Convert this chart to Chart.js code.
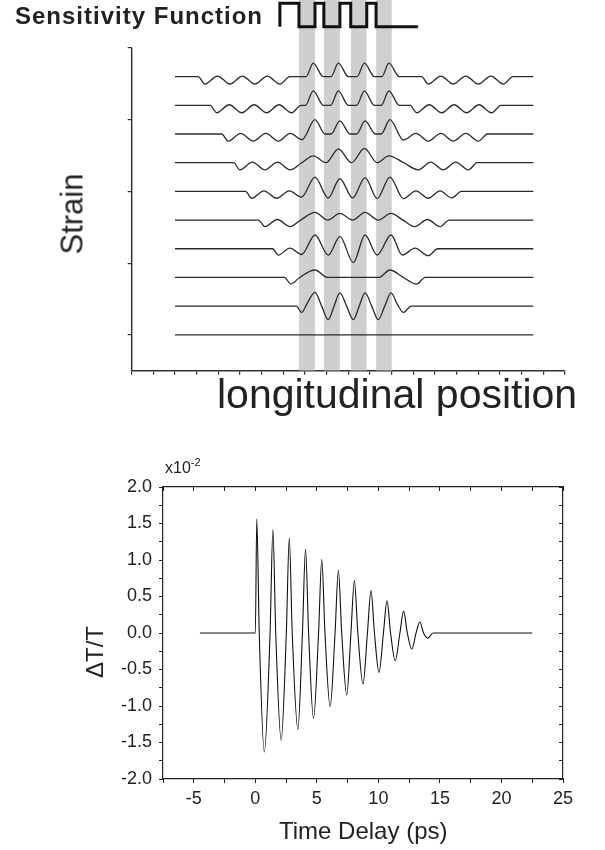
<!DOCTYPE html>
<html><head><meta charset="utf-8">
<script src="https://cdn.jsdelivr.net/npm/chart.js@4.4.1/dist/chart.umd.min.js"></script>
<style>
html,body{margin:0;padding:0;background:#fff;width:605px;height:850px;overflow:hidden;font-family:"Liberation Sans",Arial,sans-serif;color:#222;}
canvas{position:absolute;left:0;}
.lbl{position:absolute;white-space:nowrap;line-height:1;}
.rot{transform:translate(-50%,-50%) rotate(-90deg);}
sup{font-size:11px;position:relative;top:-1px;}
</style></head><body>
<canvas id="top" width="605" height="380" style="top:0"></canvas>
<canvas id="bot" width="605" height="420" style="top:430px"></canvas>
<div class="lbl" style="left:15px;top:4px;font-weight:bold;font-size:24px;letter-spacing:1px;">Sensitivity Function</div>
<div class="lbl" style="left:217px;top:374px;font-size:41px;">longitudinal position</div>
<div class="lbl rot" style="left:72px;top:214px;font-size:31px;">Strain</div>
<div class="lbl" style="left:165px;top:458px;font-size:16px;">x10<sup>-2</sup></div>
<div class="lbl rot" style="left:95px;top:652px;font-size:24px;">&Delta;T/T</div>
<div class="lbl" style="left:279px;top:819px;font-size:24px;">Time Delay (ps)</div>
<script>
// ---------- top panel: schematic strain traces ----------
const strainLevels = [0, 1, 2, 3, 4, 5, 6, 7, 8, 9];
const strainT0 = [[2.0,0],[18.54,0]];
const strainT1 = [[2.0,0],[7.6,0],[7.84,-0.22],[8.1,0.1],[8.46,0.48],[8.77,0],[9.07,-0.47],[9.34,0],[9.61,0.46],[9.92,0],[10.23,-0.47],[10.5,0],[10.77,0.46],[11.08,0],[11.38,-0.47],[11.68,0],[11.97,0.46],[12.27,0.05],[12.54,-0.22],[12.9,0],[18.54,0]];
const strainT2 = [[2.0,0],[7.05,0],[7.35,-0.23],[7.75,0],[8.46,0.26],[9.05,0],[11.4,0],[11.92,0.26],[12.5,0.02],[13.15,-0.23],[13.55,0],[18.54,0]];
const strainT3 = [[2.0,0],[6.5,0],[6.77,-0.22],[7.3,0.02],[7.84,-0.2],[8.46,0.48],[9.07,-0.22],[9.61,0.42],[10.23,-0.48],[10.77,0.48],[11.33,-0.22],[11.97,0.48],[12.49,-0.22],[13.08,0.02],[13.69,-0.24],[14.12,0],[18.54,0]];
const strainT4 = [[2.0,0],[5.85,0],[6.15,-0.23],[6.72,0.02],[7.31,-0.23],[7.8,0],[8.46,0.27],[9.05,0],[9.61,0.23],[10.2,0],[10.77,0.27],[11.38,0],[11.97,0.23],[12.52,0],[13.07,-0.23],[13.65,0.02],[14.23,-0.23],[14.65,0],[18.54,0]];
const strainT5 = [[2.0,0],[5.25,0],[5.54,-0.24],[6.1,0.02],[6.69,-0.24],[7.27,0.02],[7.84,-0.2],[8.46,0.5],[9.07,-0.23],[9.61,0.44],[10.2,-0.23],[10.77,0.48],[11.33,-0.25],[11.92,0.5],[12.54,-0.25],[13.12,0.02],[13.69,-0.24],[14.23,0.02],[14.77,-0.23],[15.22,0],[18.54,0]];
const strainT6 = [[2.0,0],[4.7,0],[5.0,-0.25],[5.57,0.02],[6.15,-0.25],[6.73,0.02],[7.31,-0.25],[7.85,0],[8.38,0.24],[8.97,0],[9.54,0.48],[10.15,0],[10.74,0.5],[11.33,0],[11.87,0.24],[12.55,0],[13.23,-0.25],[13.8,0.02],[14.38,-0.25],[14.96,0.02],[15.54,-0.25],[15.95,0],[18.54,0]];
const strainT7 = [[2.0,0],[4.15,0],[4.46,-0.25],[5.03,0.02],[5.61,-0.25],[6.19,0.02],[6.77,-0.25],[7.32,0.02],[7.86,-0.2],[8.46,0.5],[8.92,0],[9.2,0],[9.61,0.46],[10.08,0],[10.38,0],[10.77,0.46],[11.25,0],[11.52,0],[11.92,0.5],[12.54,-0.21],[13.12,0.02],[13.69,-0.25],[14.27,0.02],[14.84,-0.25],[15.42,0.02],[16.0,-0.25],[16.42,0],[18.54,0]];
const strainT8 = [[2.0,0],[3.62,0],[3.92,-0.26],[4.5,0.02],[5.08,-0.26],[5.65,0.02],[6.23,-0.26],[6.8,0.02],[7.38,-0.26],[7.82,0],[8.02,0],[8.38,0.5],[8.85,0],[9.18,0],[9.54,0.5],[10.0,0],[10.38,0],[10.74,0.5],[11.2,0],[11.52,0],[11.87,0.5],[12.35,0],[12.85,0],[13.15,-0.26],[13.73,0.02],[14.31,-0.26],[14.88,0.02],[15.46,-0.26],[16.03,0.02],[16.61,-0.26],[17.05,0],[18.54,0]];
const strainT9 = [[2.0,0],[3.07,0],[3.38,-0.26],[3.96,0.02],[4.54,-0.26],[5.11,0.02],[5.69,-0.26],[6.26,0.02],[6.84,-0.26],[7.3,0],[8.05,0],[8.38,0.47],[8.84,0],[9.2,0],[9.54,0.47],[10.0,0],[10.4,0],[10.74,0.47],[11.2,0],[11.55,0],[11.87,0.47],[12.35,0],[13.38,0],[13.69,-0.26],[14.27,0.02],[14.84,-0.26],[15.42,0.02],[16.0,-0.26],[16.58,0.02],[17.15,-0.26],[17.6,0],[18.54,0]];
const strainTraces = [strainT0, strainT1, strainT2, strainT3, strainT4, strainT5, strainT6, strainT7, strainT8, strainT9];
const bandStart = [7.72, 8.87, 10.11, 11.28];
const bandEnd   = [8.46, 9.61, 10.85, 12.01];
const sensEdges = [6.84, 7.72, 8.46, 8.87, 9.61, 10.11, 10.85, 11.28, 12.01, 13.22];
const sensOn    = [0, 1, 0, 1, 0, 1, 0, 1, 0, 0];
const strainYTicks = [0, 2.5, 5, 7.5, 10];
const positionTicks = [0,1,2,3,4,5,6,7,8,9,10,11,12,13,14,15,16,17,18,19,20];

// ---------- bottom panel: transmission change ----------
const delayPs = [-4.5, 0.0, 0.12, 0.32, 0.73, 1.20, 1.43, 1.66, 2.10, 2.52, 2.76, 3.00, 3.46, 3.83, 4.08, 4.33, 4.73, 5.14, 5.40, 5.66, 6.08, 6.48, 6.75, 7.02, 7.43, 7.77, 8.05, 8.33, 8.75, 9.11, 9.40, 9.68, 10.05, 10.41, 10.70, 10.99, 11.37, 11.75, 12.05, 12.35, 12.72, 13.06, 13.37, 13.67, 14.00, 14.45, 22.5];
const deltaT  = [0, 0, 1.56, 0, -1.63, 0, 1.42, 0, -1.47, 0, 1.30, 0, -1.32, 0, 1.15, 0, -1.17, 0, 1.01, 0, -1.01, 0, 0.86, 0, -0.85, 0, 0.72, 0, -0.70, 0, 0.58, 0, -0.54, 0, 0.44, 0, -0.38, 0, 0.30, 0, -0.22, 0, 0.15, 0, -0.07, 0, 0];
const delayTicks = [-7.5, -5, -2.5, 0, 2.5, 5, 7.5, 10, 12.5, 15, 17.5, 20, 22.5, 25];
const deltaTTicks = [-2, -1.75, -1.5, -1.25, -1, -0.75, -0.5, -0.25, 0, 0.25, 0.5, 0.75, 1, 1.25, 1.5, 1.75, 2];

// ---------- styling ----------
const FONT = "'Liberation Sans', Arial, sans-serif";
const INK = '#222';
const SENS_BASE = 10.74, SENS_H = 0.82, Y_TOP = 11.67;

const setTicks = arr => s => { s.ticks = arr.map(v => ({value: v})); };

const topSets = [];
strainTraces.forEach((tr, i) => topSets.push({
  data: tr.map(p => ({x: p[0], y: strainLevels[i] + p[1]})),
  borderColor: '#2b2b2b', borderWidth: 1.3, pointRadius: 0,
  cubicInterpolationMode: 'monotone', fill: false, order: 1
}));
topSets.push({
  data: sensEdges.map((x, i) => ({x: x, y: SENS_BASE + SENS_H * sensOn[i]})),
  stepped: 'after', borderColor: '#111', borderWidth: 3, pointRadius: 0,
  fill: false, order: 0, borderJoinStyle: 'miter'
});
bandStart.forEach((s, i) => topSets.push({
  data: [{x: s, y: Y_TOP}, {x: bandEnd[i], y: Y_TOP}],
  fill: 'start', backgroundColor: '#cfcfcf', borderWidth: 0, pointRadius: 0, order: 5
}));

const leftAxisLine = {
  id: 'leftAxisLine',
  afterDatasetsDraw(chart) {
    const {ctx, chartArea, scales} = chart;
    ctx.save();
    ctx.strokeStyle = '#333'; ctx.lineWidth = 1.5;
    ctx.beginPath();
    ctx.moveTo(chartArea.left, scales.y.getPixelForValue(strainYTicks[strainYTicks.length - 1]));
    ctx.lineTo(chartArea.left, chartArea.bottom);
    ctx.stroke();
    ctx.restore();
  }
};

new Chart(document.getElementById('top'), {
  type: 'line',
  data: {datasets: topSets},
  plugins: [leftAxisLine],
  options: {
    responsive: false, animation: false, devicePixelRatio: 1, events: [],
    layout: {padding: {left: 131.7, right: 40, top: 0, bottom: 9.3}},
    plugins: {legend: {display: false}, tooltip: {enabled: false}},
    scales: {
      x: {type: 'linear', min: 0, max: 20, afterBuildTicks: setTicks(positionTicks),
          afterFit: s => { s.height = 0; }, ticks: {display: false},
          grid: {drawOnChartArea: false, drawTicks: true, tickLength: 4, tickColor: '#333', lineWidth: 1.2},
          border: {display: true, color: '#333', width: 1.5}},
      y: {type: 'linear', min: -1.25, max: Y_TOP, afterBuildTicks: setTicks(strainYTicks),
          afterFit: s => { s.width = 0; }, ticks: {display: false},
          grid: {drawOnChartArea: false, drawTicks: true, tickLength: 4, tickColor: '#333', lineWidth: 1.2},
          border: {display: false}}
    }
  }
});

const gridOut = {drawOnChartArea: false, drawTicks: true, tickLength: 4, tickColor: INK, lineWidth: 1};
const gridIn = {drawOnChartArea: false, drawTicks: true, tickLength: -4, tickColor: INK, lineWidth: 1};
const bord = {display: true, color: INK, width: 1.2};

new Chart(document.getElementById('bot'), {
  type: 'line',
  data: {datasets: [{
    data: delayPs.map((x, i) => ({x: x, y: deltaT[i]})),
    borderColor: '#111', borderWidth: 1.1, pointRadius: 0,
    cubicInterpolationMode: 'monotone', fill: false
  }]},
  options: {
    responsive: false, animation: false, devicePixelRatio: 1, events: [],
    layout: {padding: {left: 0, right: 42, top: 57, bottom: 0}},
    plugins: {legend: {display: false}, tooltip: {enabled: false}},
    scales: {
      x: {type: 'linear', position: 'bottom', min: -7.5, max: 25, afterBuildTicks: setTicks(delayTicks),
          afterFit: s => { s.height = 71; },
          ticks: {autoSkip: false, maxRotation: 0, padding: 5, color: INK, font: {family: FONT, size: 18},
                  callback: v => (v % 5 === 0 ? String(v) : '')},
          grid: gridOut, border: bord},
      x2: {type: 'linear', position: 'top', min: -7.5, max: 25, afterBuildTicks: setTicks(delayTicks),
          afterFit: s => { s.height = 0; }, ticks: {display: false}, grid: gridIn, border: bord},
      y: {type: 'linear', position: 'left', min: -2, max: 2, afterBuildTicks: setTicks(deltaTTicks),
          afterFit: s => { s.width = 163; },
          ticks: {autoSkip: false, padding: 7, color: INK, font: {family: FONT, size: 18},
                  callback: v => (Math.abs(v * 2 - Math.round(v * 2)) < 1e-9 ? v.toFixed(1) : '')},
          grid: gridOut, border: bord},
      y2: {type: 'linear', position: 'right', min: -2, max: 2, afterBuildTicks: setTicks(deltaTTicks),
          afterFit: s => { s.width = 0; }, ticks: {display: false}, grid: gridIn, border: bord}
    }
  }
});
</script>
</body></html>
